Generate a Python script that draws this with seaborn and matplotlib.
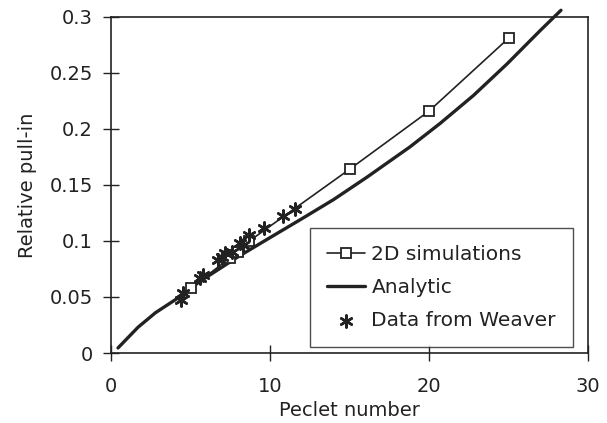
import matplotlib
matplotlib.use("Agg")
import matplotlib.pyplot as plt
import seaborn as sns
import pandas as pd

sim_pe = [5, 7.5, 8, 8.7, 15, 20, 25]
sim_pull = [0.058, 0.085, 0.090, 0.100, 0.164, 0.216, 0.281]

ana_pe = [0.44, 1.7, 2.8, 4.2, 5.6, 8.0, 10.0, 11.9, 14.0, 16.1, 18.8, 20.7, 22.8, 24.9, 27.0, 28.3]
ana_pull = [0.0045, 0.023, 0.036, 0.049, 0.064, 0.086, 0.103, 0.119, 0.137, 0.157, 0.184, 0.205, 0.230, 0.258, 0.288, 0.306]

wv_pe = [4.4, 4.5, 5.6, 5.8, 6.7, 7.0, 7.2, 7.6, 8.1, 8.3, 8.7, 9.6, 10.8, 11.6]
wv_pull = [0.047, 0.054, 0.067, 0.070, 0.083, 0.086, 0.089, 0.090, 0.098, 0.096, 0.105, 0.112, 0.122, 0.129]

sim = pd.DataFrame({"Pe": sim_pe, "pull": sim_pull})
ana = pd.DataFrame({"Pe": ana_pe, "pull": ana_pull})
wv = pd.DataFrame({"Pe": wv_pe, "pull": wv_pull})

sns.set_theme(style="white")
plt.rcParams["font.family"] = ["DejaVu Sans"]

INK = "#222222"
fig = plt.figure(figsize=(6.07, 4.23), dpi=100)
ax = fig.add_axes([111/607, 1-353/423, (588-111)/607, (353-17)/423])

sns.lineplot(data=sim, x="Pe", y="pull", ax=ax, color=INK, lw=1.2,
             marker="s", markersize=7, markerfacecolor="white", markeredgecolor=INK,
             markeredgewidth=1.3, sort=False, label="2D simulations", zorder=3)
sns.lineplot(data=ana, x="Pe", y="pull", ax=ax, color=INK, lw=2.4,
             sort=False, label="Analytic", zorder=2, clip_on=False)
sns.scatterplot(data=wv, x="Pe", y="pull", ax=ax, marker=(6, 2, 0), s=75,
                color=INK, linewidth=1.8, edgecolor=INK,
                label="Data from Weaver", zorder=4)

ax.set_xlim(0, 30)
ax.set_ylim(0, 0.3)
ax.set_xticks([0, 10, 20, 30])
ax.set_yticks([0, 0.05, 0.1, 0.15, 0.2, 0.25, 0.3])
ax.set_yticklabels(["0", "0.05", "0.1", "0.15", "0.2", "0.25", "0.3"])
ax.tick_params(axis="both", direction="inout", length=12, width=1, color=INK,
               labelsize=14, labelcolor=INK, bottom=True, left=True)
ax.tick_params(axis="x", pad=11)
ax.tick_params(axis="y", pad=7)
for s in ax.spines.values():
    s.set_color(INK)
    s.set_linewidth(1.2)
ax.set_xlabel("Peclet number", fontsize=14, color=INK, labelpad=4)
ax.set_ylabel("Relative pull-in", fontsize=14, color=INK, labelpad=9)

leg = ax.legend(loc="lower right", bbox_to_anchor=(573/607, 1-347/423),
                bbox_transform=fig.transFigure, fontsize=14.5, frameon=True,
                fancybox=False, edgecolor=INK, borderpad=0.85,
                handlelength=1.9, handletextpad=0.3, labelspacing=0.68,
                borderaxespad=0)
leg.get_frame().set_linewidth(1.0)
for t in leg.get_texts():
    t.set_color(INK)

fig.savefig("out.png", dpi=100, facecolor="white")
